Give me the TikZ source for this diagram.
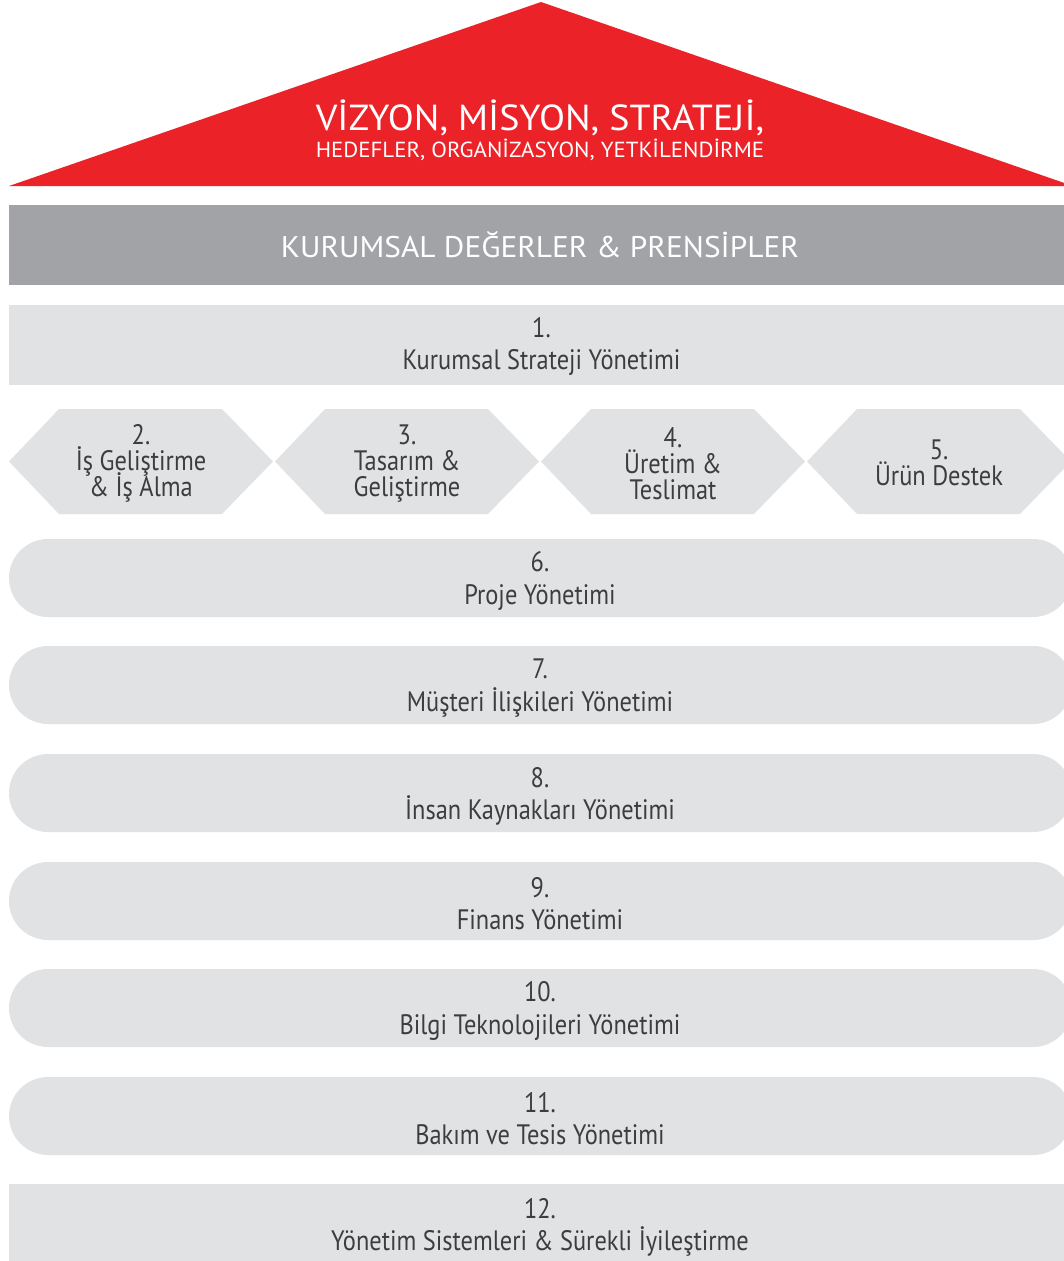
\documentclass[tikz,border=0pt]{standalone}
\usepackage{fontspec}
\setmainfont{PT Sans}[FakeStretch=0.868]
\newfontfamily\capsfont{PT Sans}[FakeStretch=1.05]
\newcommand\blockfont{\fontsize{16pt}{18.3pt}\selectfont\lineskiplimit=-20pt\relax}
\newcommand\hexfont{\fontsize{16pt}{14.7pt}\selectfont\lineskiplimit=-20pt\relax}
\definecolor{roofred}{HTML}{EC2229}
\definecolor{valuegray}{HTML}{A2A3A7}
\definecolor{blockgray}{HTML}{E1E2E4}
\definecolor{labelgray}{HTML}{3D3D3F}
\begin{document}
\begin{tikzpicture}[x=0.02cm, y=-0.02cm]
    \useasboundingbox (0,0) rectangle (1064,1261);
    \clip (0,0) rectangle (1064,1261);

    % roof and values bar
    \fill[roofred] (9,186) -- (541,2) -- (1073,186) -- cycle;
    \fill[valuegray] (9,205) rectangle (1064,285);

    % plain blocks, hexagons and rounded blocks
    \begin{scope}[blockgray]
        \fill (9,305) rectangle (1064,385);
        \fill (9,1184) rectangle (1064,1261);
        \foreach \i in {0,...,3}
            \fill ({9+266*\i},461.5) -- ++(50,-52.5) -- ++(163,0) -- ++(51,52.5)
                -- ++(-51,52.5) -- ++(-163,0) -- cycle;
        \foreach \t in {539,646,754,862,969,1077}
            \fill[rounded corners=0.78cm] (9,\t) rectangle (1072,{\t+78});
    \end{scope}

    \begin{scope}[every node/.style={white, inner sep=0pt, anchor=base}]
        \node (vision) at (540,130) {\capsfont\fontsize{20.6pt}{21pt}\selectfont VİZYON, MİSYON, STRATEJİ,};
        \node (goals) at (540,157) {\capsfont\fontsize{12.4pt}{13pt}\selectfont HEDEFLER, ORGANİZASYON, YETKİLENDİRME};
        \node (values) at (540,257) {\capsfont\fontsize{17pt}{18pt}\selectfont KURUMSAL DEĞERLER \& PRENSİPLER};
    \end{scope}

    \begin{scope}[every node/.style={labelgray, inner sep=0pt, align=center, font=\blockfont}]
        \node (b1) at (541.5,346.5) {1.\\Kurumsal Strateji Yönetimi};
        \begin{scope}[every node/.append style={font=\hexfont}]
            \node (h2) at (141,463.5) {2.\\İş Geliştirme\\\& İş Alma};
            \node (h3) at (407,463.5) {3.\\Tasarım \&\\Geliştirme};
            \node (h4) at (673,463.5) {4.\\Üretim \&\\Teslimat};
            \node (h5) at (939,463) {5.\\Ürün Destek};
        \end{scope}
        \foreach \t/\n/\l in {539/6/Proje Yönetimi, 646/7/Müşteri İlişkileri Yönetimi,
                754/8/İnsan Kaynakları Yönetimi, 862/9/Finans Yönetimi,
                969/10/Bilgi Teknolojileri Yönetimi, 1077/11/Bakım ve Tesis Yönetimi}
            \node (b\n) at (540,{\t+42}) {\n.\\\l};
        \node (b12) at (540,1227) {12.\\Yönetim Sistemleri \& Sürekli İyileştirme};
    \end{scope}
\end{tikzpicture}
\end{document}
